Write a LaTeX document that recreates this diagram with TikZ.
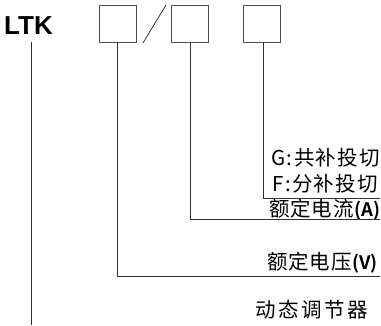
\documentclass[tikz,border=0pt]{standalone}
\usepackage{fontspec}
\newfontfamily\cjk{Noto Sans CJK SC}
\newfontfamily\cjkb{Noto Sans CJK SC Bold}
\newfontfamily\lat{Liberation Sans Bold}
\newcommand{\unitlbl}[1]{{\cjkb\fontsize{18.5}{18.5}\selectfont #1}}
\newcommand{\gl}{\kern1.5pt }
\newcommand{\gp}{\kern1.2pt }
\newcommand{\cg}{\kern0.8pt }
\newcommand{\wg}{\kern2.5pt }
\begin{document}
\begin{tikzpicture}[x=1pt,y=-1pt,
  box/.style={draw=black!70,line width=0.9pt,minimum width=37pt,minimum height=37pt,inner sep=0pt},
  conn/.style={draw=black!80,line width=0.8pt},
  lbl/.style={inner sep=0pt,anchor=base west,font=\cjk\fontsize{20.5}{20.5}\selectfont}]
\useasboundingbox (0,0) rectangle (381,325);
\node[inner sep=0pt,anchor=base west,font=\lat\fontsize{26}{26}\selectfont] (ltk) at (4,34) {LTK};
\node[box] (b1) at (118,23.5) {};
\node[box] (b2) at (190,23.5) {};
\node[box] (b3) at (261.5,23.5) {};
\coordinate (s1) at (143,43);
\coordinate (s2) at (166,5);
\draw[conn] (s1) -- (s2);
% labels
\node[lbl] (g) at (271,165) {G\gl:\gl 共\gp 补\gp 投\gp 切};
\node[lbl] (f) at (272,191) {F\gl:\gl 分\gp 补\gp 投\gp 切};
\node[lbl] (ia) at (269,216) {额\cg 定\cg 电\cg 流\cg\unitlbl{(A)}};
\node[lbl] (uv) at (267,269) {额\cg 定\cg 电\cg 压\cg\unitlbl{(V)}};
\node[lbl] (dt) at (255,317) {动\wg 态\wg 调\wg 节\wg 器};
% connectors
\coordinate (e3) at (380,198);
\coordinate (e2) at (380,219);
\coordinate (e1) at (380,276);
\coordinate (l0) at (31,42);
\coordinate (l1) at (31,325);
\draw[conn] (b3.south -| 263,0) |- (e3);
\draw[conn] (b2.south) |- (e2);
\draw[conn] (b1.south -| 117,0) |- (e1);
\draw[conn] (l0) -- (l1);
\end{tikzpicture}
\end{document}
